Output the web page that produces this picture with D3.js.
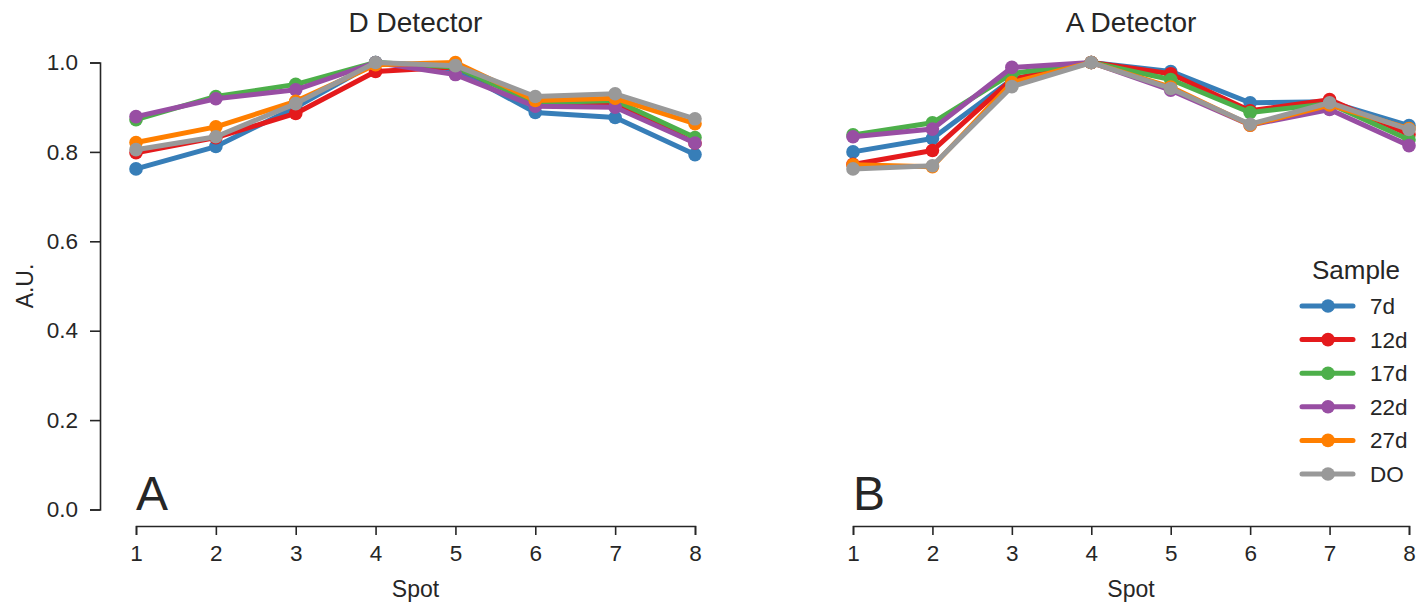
<!DOCTYPE html>
<html><head><meta charset="utf-8">
<script src="https://cdn.jsdelivr.net/npm/d3@7"></script>
<style>body{margin:0;background:#fff;} text{font-family:"Liberation Sans",Arial,sans-serif;fill:#262626;}</style>
</head><body>
<svg id="chart" width="1427" height="602"></svg>
<script>
const spots = [1,2,3,4,5,6,7,8];
const samples = ["7d","12d","17d","22d","27d","DO"];
const colors = ["#377eb8","#e41a1c","#4daf4a","#984ea3","#ff7f00","#999999"];
const yTicks = [0.0,0.2,0.4,0.6,0.8,1.0];
const panelTitles = ["D Detector","A Detector"];
const panelLetters = ["A","B"];

// D Detector values per sample (spots 1..8)
const dDetector = [
  [0.762,0.812,0.900,1.000,0.985,0.888,0.877,0.794], // 7d
  [0.798,0.832,0.886,0.980,0.990,0.910,0.910,0.820], // 12d
  [0.872,0.924,0.951,1.000,0.990,0.910,0.915,0.832], // 17d
  [0.879,0.919,0.939,1.000,0.973,0.902,0.900,0.820], // 22d
  [0.821,0.856,0.913,0.995,1.000,0.915,0.920,0.863], // 27d
  [0.805,0.834,0.908,1.000,0.993,0.924,0.930,0.874]  // DO
];
// A Detector values per sample (spots 1..8)
const aDetector = [
  [0.800,0.830,0.962,1.000,0.980,0.910,0.912,0.859], // 7d
  [0.772,0.803,0.962,1.000,0.975,0.892,0.917,0.839], // 12d
  [0.838,0.865,0.975,1.000,0.962,0.888,0.908,0.827], // 17d
  [0.834,0.851,0.989,1.000,0.938,0.860,0.895,0.814], // 22d
  [0.771,0.767,0.955,1.000,0.945,0.860,0.905,0.852], // 27d
  [0.762,0.769,0.946,1.000,0.942,0.862,0.910,0.850]  // DO
];

const svg = d3.select("#chart");
const y = d3.scaleLinear().domain([0,1]).range([509.5,62.5]);
const panels = [
  {data:dDetector, x:d3.scaleLinear().domain([1,8]).range([136,695]), yAxis:true},
  {data:aDetector, x:d3.scaleLinear().domain([1,8]).range([853,1409]), yAxis:false}
];
const axisY = 526;

panels.forEach((p,pi)=>{
  const g = svg.append("g");
  const xa = g.append("g").attr("transform",`translate(0,${axisY})`)
    .call(d3.axisBottom(p.x).tickValues(spots).tickFormat(d3.format("d")).tickSizeOuter(0).tickSize(9).tickPadding(10));
  xa.select(".domain").attr("stroke","#262626").attr("stroke-width",1.6);
  xa.selectAll(".tick line").attr("stroke","#262626").attr("stroke-width",1.6);
  xa.selectAll(".tick text").attr("font-size",22.5).attr("fill","#262626").attr("font-family","Liberation Sans, Arial, sans-serif");
  g.append("text").attr("x",(p.x.range()[0]+p.x.range()[1])/2).attr("y",597)
    .attr("text-anchor","middle").attr("font-size",23).text("Spot");
  if(p.yAxis){
    const ya = g.append("g").attr("transform","translate(100,0)")
      .call(d3.axisLeft(y).tickValues(yTicks).tickFormat(d3.format(".1f")).tickSizeOuter(0).tickSize(10).tickPadding(12));
    ya.select(".domain").attr("stroke","#262626").attr("stroke-width",1.6);
    ya.selectAll(".tick line").attr("stroke","#262626").attr("stroke-width",1.6);
    ya.selectAll(".tick text").attr("font-size",22.5).attr("fill","#262626").attr("font-family","Liberation Sans, Arial, sans-serif");
    g.append("text").attr("transform","translate(33,286) rotate(-90)")
      .attr("text-anchor","middle").attr("font-size",23).text("A.U.");
  }
  g.append("text").attr("x",(p.x.range()[0]+p.x.range()[1])/2).attr("y",32)
    .attr("text-anchor","middle").attr("font-size",28).text(panelTitles[pi]);
  g.append("text").attr("x",p.x.range()[0]).attr("y",510)
    .attr("font-size",48).text(panelLetters[pi]);

  const line = d3.line().x((d,i)=>p.x(spots[i])).y(d=>y(d));
  p.data.forEach((vals,si)=>{
    const sg = g.append("g");
    sg.append("path").datum(vals).attr("d",line).attr("fill","none")
      .attr("stroke",colors[si]).attr("stroke-width",5).attr("stroke-linejoin","round");
    sg.selectAll("circle").data(vals).join("circle")
      .attr("cx",(d,i)=>p.x(spots[i])).attr("cy",d=>y(d)).attr("r",6.8).attr("fill",colors[si]);
  });
});

const lg = svg.append("g");
lg.append("text").attr("x",1356).attr("y",279).attr("text-anchor","middle").attr("font-size",26).text("Sample");
samples.forEach((s,i)=>{
  const cy = 306 + i*33.6;
  lg.append("line").attr("x1",1302).attr("x2",1353).attr("y1",cy).attr("y2",cy)
    .attr("stroke",colors[i]).attr("stroke-width",5).attr("stroke-linecap","round");
  lg.append("circle").attr("cx",1328).attr("cy",cy).attr("r",6.8).attr("fill",colors[i]);
  lg.append("text").attr("x",1370).attr("y",cy+8).attr("font-size",22.5).text(s);
});
</script>
</body></html>
